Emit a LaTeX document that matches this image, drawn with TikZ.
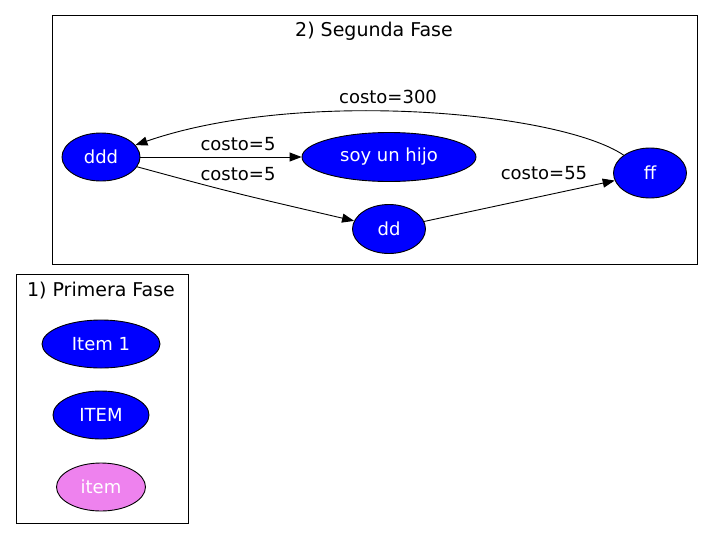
\documentclass[tikz,border=0pt]{standalone}
\usepackage{fontspec}
\setmainfont{DejaVu Sans}
\usetikzlibrary{shapes.geometric,arrows.meta}
\definecolor{pinkv}{HTML}{EE82EE}
\begin{document}
\begin{tikzpicture}[x=1pt,y=-1pt,
  every node/.style={font=\fontsize{18}{21}\selectfont},
  gnode/.style={ellipse,draw=black,line width=0.9pt,fill=blue,text=white,inner sep=0pt},
  cluster/.style={draw=black,line width=0.9pt},
  edge/.style={draw=black,line width=0.9pt,-{Triangle[length=12pt,width=9pt]}},
  lbl/.style={text=black,inner sep=0pt},
  ttl/.style={lbl,font=\fontsize{19}{22}\selectfont}]
\useasboundingbox (0,0) rectangle (713,539);
\fill[white] (0,0) rectangle (713,539);
% clusters
\draw[cluster] (52,15) rectangle (697,264);
\draw[cluster] (16,274) rectangle (188,523);
\node[ttl] (t2) at (374,31) {2) Segunda Fase};
\node[ttl] (t1) at (101,291) {1) Primera Fase};
% segunda fase nodes
\node[gnode,minimum width=78pt,minimum height=48pt] (ddd) at (101,157) {ddd};
\node[gnode,minimum width=174pt,minimum height=49pt] (soy) at (389,157) {soy un hijo};
\node[gnode,minimum width=73pt,minimum height=49pt] (dd) at (389,229) {dd};
\node[gnode,minimum width=73pt,minimum height=50pt] (ff) at (650,173) {ff};
% primera fase nodes
\node[gnode,minimum width=118pt,minimum height=48pt] (i1) at (101,344) {Item 1};
\node[gnode,minimum width=96pt,minimum height=48pt] (i2) at (101,415) {ITEM};
\node[gnode,fill=pinkv,minimum width=89pt,minimum height=48pt] (i3) at (101,487) {item};
% edges
\draw[edge] (ddd) -- (soy);
\draw[edge] (ddd) .. controls (230,192) .. (dd);
\draw[edge] (dd) -- (ff);
\draw[edge] (ff) .. controls (560,112) and (300,88) .. (ddd);
% labels
\node[lbl] (l300) at (388,97) {costo=300};
\node[lbl] (l5a) at (238,144) {costo=5};
\node[lbl] (l5b) at (238,174) {costo=5};
\node[lbl] (l55) at (544,173) {costo=55};
\end{tikzpicture}
\end{document}
